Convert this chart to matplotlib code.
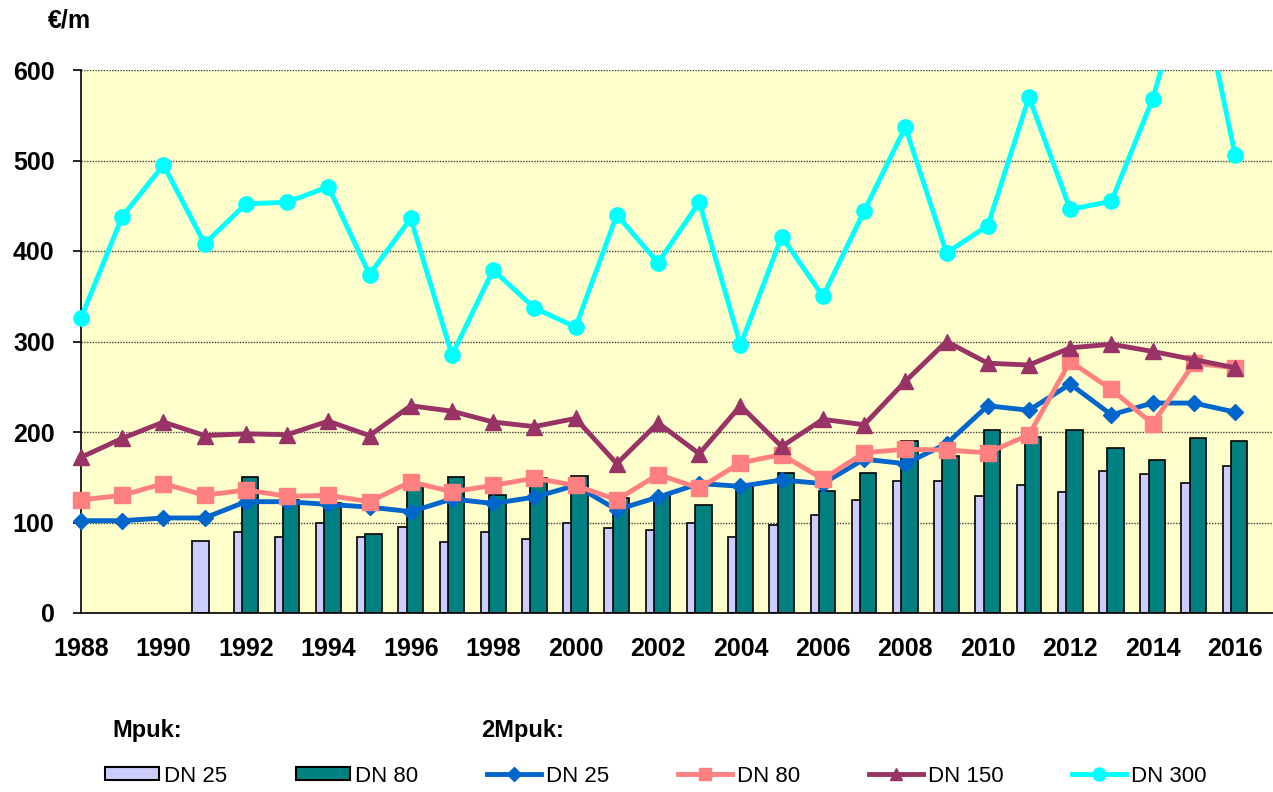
import matplotlib
matplotlib.use("Agg")
import matplotlib.pyplot as plt
from matplotlib.transforms import Bbox, TransformedBbox
from matplotlib.patches import Patch
from matplotlib.lines import Line2D

plt.rcParams['font.family'] = ['Liberation Sans', 'DejaVu Sans']

# donnees
years = list(range(1988, 2017))
tick_years = list(range(1988, 2017, 2))

# Mpuk (barres)
mpuk_dn25_years = list(range(1991, 2017))
mpuk_dn25 = [80, 90, 84, 99, 84, 95, 79, 89, 82, 99, 94, 92, 99, 84, 97, 108,
             125, 146, 146, 129, 141, 134, 157, 154, 144, 162]
mpuk_dn80_years = list(range(1992, 2017))
mpuk_dn80 = [150, 125, 122, 87, 143, 150, 130, 149, 151, 127, 130, 119, 140,
             155, 135, 155, 190, 174, 202, 194, 202, 182, 169, 193, 190]

# 2Mpuk (courbes)
dn25 = [102, 102, 105, 105, 123, 123, 120, 117, 112, 126, 121, 128, 141, 114,
        128, 143, 140, 147, 143, 170, 165, 187, 229, 224, 253, 219, 232, 232, 222]
dn80 = [125, 130, 143, 130, 136, 129, 130, 123, 145, 134, 141, 149, 141, 125,
        153, 138, 166, 175, 148, 177, 181, 180, 177, 197, 278, 247, 209, 276, 271]
dn150 = [172, 193, 211, 196, 198, 197, 212, 196, 229, 223, 211, 206, 215, 165,
         210, 176, 229, 184, 214, 208, 256, 300, 276, 274, 293, 297, 289, 280, 271]
dn300 = [326, 438, 495, 408, 452, 454, 471, 374, 436, 285, 379, 337, 316, 440,
         387, 454, 296, 416, 350, 444, 537, 398, 428, 570, 446, 455, 568, 725, 506]

fig = plt.figure(figsize=(12.73, 7.92), dpi=100)
ax = fig.add_axes([81 / 1273, 1 - 613 / 792, 1 - 81 / 1273, (613 - 70) / 792])
ax.set_facecolor('#FFFFCC')

# barres
w = 0.4
ax.bar([y - 0.1 for y in mpuk_dn25_years], mpuk_dn25, width=w, color='#CCCCFF',
       edgecolor='black', linewidth=1.2, zorder=2)
ax.bar([y + 0.1 for y in mpuk_dn80_years], mpuk_dn80, width=w, color='#008080',
       edgecolor='black', linewidth=1.2, zorder=2)

# courbes (coupees en haut a 600, pas a gauche)
clip = TransformedBbox(Bbox([[1987.0, 0], [2017.5, 600]]), ax.transData)
series = [
    (dn25, '#0066CC', 'D', 8),
    (dn80, '#FF8080', 's', 11),
    (dn150, '#993366', '^', 11),
    (dn300, '#00FFFF', 'o', 11),
]
for vals, col, mk, ms in series:
    ln, = ax.plot(years, vals, color=col, lw=3.5, marker=mk, ms=ms,
                  mec=col, mfc=col, zorder=3)
    ln.set_clip_box(clip)

ax.set_xlim(1988, 2016.92)
ax.set_ylim(0, 600)
ax.set_yticks(range(0, 601, 100))
ax.set_xticks(tick_years)
ax.set_xticklabels([str(y) for y in tick_years])
ax.yaxis.grid(True, color='#404040', linestyle=(0, (1, 1)), linewidth=1.0, zorder=1)
ax.set_axisbelow(True)
for s in ['top', 'right']:
    ax.spines[s].set_visible(False)
for s in ['left', 'bottom']:
    ax.spines[s].set_linewidth(1.2)
ax.tick_params(axis='y', direction='out', length=6, width=1.2, pad=13,
               labelsize=18)
ax.tick_params(axis='x', length=0, pad=17, labelsize=18)
for lab in ax.get_xticklabels() + ax.get_yticklabels():
    lab.set_fontweight('bold')

fig.text(48 / 1273, 1 - 21 / 792, '€/m', fontsize=18, fontweight='bold',
         va='center', ha='left')
fig.text(112 / 1273, 1 - 730 / 792, 'Mpuk:', fontsize=17, fontweight='bold',
         va='center', ha='left')
fig.text(481 / 1273, 1 - 730 / 792, '2Mpuk:', fontsize=17, fontweight='bold',
         va='center', ha='left')

handles = [
    Patch(facecolor='#CCCCFF', edgecolor='black', linewidth=1.5),
    Patch(facecolor='#008080', edgecolor='black', linewidth=1.5),
]
labels = ['DN 25', 'DN 80', 'DN 25', 'DN 80', 'DN 150', 'DN 300']
for vals, col, mk, ms in series:
    handles.append(Line2D([], [], color=col, lw=3.5, marker=mk, ms=ms * 0.85,
                          mec=col, mfc=col))
fig.legend(handles, labels, ncol=6, loc='center left',
           bbox_to_anchor=(105 / 1273, 1 - 776 / 792), frameon=False,
           fontsize=16, handlelength=2.45, handleheight=0.5,
           handletextpad=0.2, columnspacing=3.1, borderpad=0,
           borderaxespad=0)

fig.savefig('out.png', dpi=100)
